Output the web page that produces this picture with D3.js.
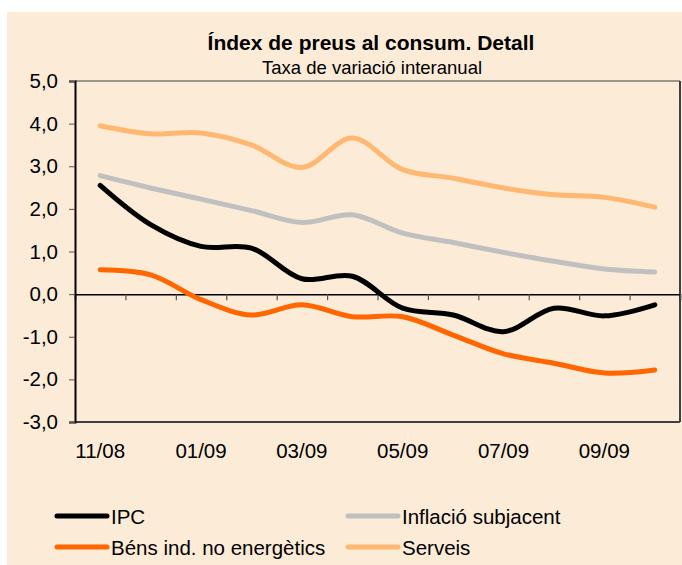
<!DOCTYPE html>
<html>
<head>
<meta charset="utf-8">
<script src="https://cdn.jsdelivr.net/npm/d3@7"></script>
<style>
body { margin: 0; background: #fff; }
text { font-family: "Liberation Sans", Arial, sans-serif; fill: #000; }
</style>
</head>
<body>
<svg id="chart" width="682" height="565"></svg>
<script>
// mesos (etiquetes cada dos mesos)
var months = ["11/08","12/08","01/09","02/09","03/09","04/09","05/09","06/09","07/09","08/09","09/09","10/09"];
var tickLabels = ["11/08","01/09","03/09","05/09","07/09","09/09"];
var yTicks = [5,4,3,2,1,0,-1,-2,-3];

var ipc       = [2.55, 1.63, 1.12, 1.08, 0.36, 0.42, -0.33, -0.49, -0.88, -0.33, -0.51, -0.25];
var subjacent = [2.78, 2.49, 2.23, 1.96, 1.68, 1.86, 1.43, 1.21, 0.98, 0.77, 0.59, 0.52];
var bens      = [0.57, 0.45, -0.13, -0.49, -0.25, -0.53, -0.53, -0.96, -1.40, -1.62, -1.85, -1.78];
var serveis   = [3.95, 3.76, 3.78, 3.50, 2.97, 3.66, 2.92, 2.72, 2.49, 2.33, 2.27, 2.04];

var seriesNames = ["IPC", "Inflació subjacent", "Béns ind. no energètics", "Serveis"];
var seriesColors = ["#000000", "#c0c0c0", "#ff6600", "#ffb871"];

var series = [ipc, subjacent, bens, serveis].map(function(v, i) {
	return {name: seriesNames[i], color: seriesColors[i], values: v};
});

var svg = d3.select("#chart");

// fons
svg.append("rect")
	.attr("x", 7).attr("y", 12)
	.attr("width", 675).attr("height", 553)
	.attr("fill", "#fbebd7");

var pLeft = 75, pRight = 680, pTop = 81, pBottom = 422;

var x = d3.scaleBand().domain(months).range([pLeft, pRight]);
var xEdge = d3.scaleLinear().domain([0, months.length]).range([pLeft, pRight]);
var y = d3.scaleLinear().domain([-3, 5]).range([pBottom, pTop]);

// marc
svg.append("line").attr("x1", pLeft).attr("x2", pRight).attr("y1", pTop).attr("y2", pTop)
	.attr("stroke", "#404040").attr("stroke-width", 1);
svg.append("line").attr("x1", pRight).attr("x2", pRight).attr("y1", pTop).attr("y2", pBottom)
	.attr("stroke", "#404040").attr("stroke-width", 2);
svg.append("line").attr("x1", pLeft).attr("x2", pRight).attr("y1", pBottom).attr("y2", pBottom)
	.attr("stroke", "#404040").attr("stroke-width", 2);

// eix y
var yAxis = svg.append("g")
	.attr("transform", "translate(" + pLeft + ",0)")
	.call(d3.axisLeft(y).tickValues(yTicks).tickSize(6).tickPadding(11)
		.tickFormat(function(d){ return d3.format(".1f")(d).replace(".", ",").replace("−", "-"); }));
yAxis.select(".domain").attr("stroke", "#000").attr("stroke-width", 2);
yAxis.selectAll(".tick line").attr("stroke", "#555").attr("stroke-width", 1);
yAxis.selectAll("text").attr("font-size", 20.5).attr("fill", "#000")
	.style("font-family", "'Liberation Sans', Arial, sans-serif");

// eix zero amb marques
var xAxis = svg.append("g")
	.attr("transform", "translate(0," + y(0) + ")")
	.call(d3.axisBottom(xEdge).tickValues(d3.range(1, months.length + 1)).tickSize(6).tickFormat(""));
xAxis.select(".domain").attr("stroke", "#000").attr("stroke-width", 1.5);
xAxis.selectAll(".tick line").attr("stroke", "#555").attr("stroke-width", 1.2);

// etiquetes de mesos
svg.selectAll(".xlab")
	.data(tickLabels)
	.enter().append("text")
	.attr("class", "xlab")
	.attr("x", function(d){ return x(d) + x.bandwidth() / 2; })
	.attr("y", 458)
	.attr("text-anchor", "middle")
	.attr("font-size", 20.5)
	.text(function(d){ return d; });

// línies
var line = d3.line()
	.x(function(d, i){ return x(months[i]) + x.bandwidth() / 2; })
	.y(function(d){ return y(d); })
	.curve(d3.curveCatmullRom.alpha(0.5));

[3, 1, 2, 0].forEach(function(k) {
	var s = series[k];
	svg.append("path")
		.attr("class", "data-line")
		.attr("d", line(s.values))
		.attr("fill", "none")
		.attr("stroke", s.color)
		.attr("stroke-width", 5)
		.attr("stroke-linecap", "round")
		.attr("stroke-linejoin", "round");
});

// títols
svg.append("text")
	.attr("x", 371).attr("y", 50)
	.attr("text-anchor", "middle")
	.attr("font-size", 21).attr("font-weight", "bold")
	.text("Índex de preus al consum. Detall");
svg.append("text")
	.attr("x", 372).attr("y", 74)
	.attr("text-anchor", "middle")
	.attr("font-size", 18.5)
	.text("Taxa de variació interanual");

// llegenda
var legendCol = [57, 348], legendRow = [516, 547];
var leg = svg.selectAll(".legend")
	.data(series)
	.enter().append("g")
	.attr("class", "legend")
	.attr("transform", function(d, i){ return "translate(" + legendCol[i % 2] + "," + legendRow[Math.floor(i / 2)] + ")"; });
leg.append("line")
	.attr("x1", 0).attr("x2", 50)
	.attr("stroke", function(d){ return d.color; })
	.attr("stroke-width", 5)
	.attr("stroke-linecap", "round");
leg.append("text")
	.attr("x", 54).attr("y", 8)
	.attr("font-size", 20.5)
	.text(function(d){ return d.name; });
</script>
</body>
</html>
